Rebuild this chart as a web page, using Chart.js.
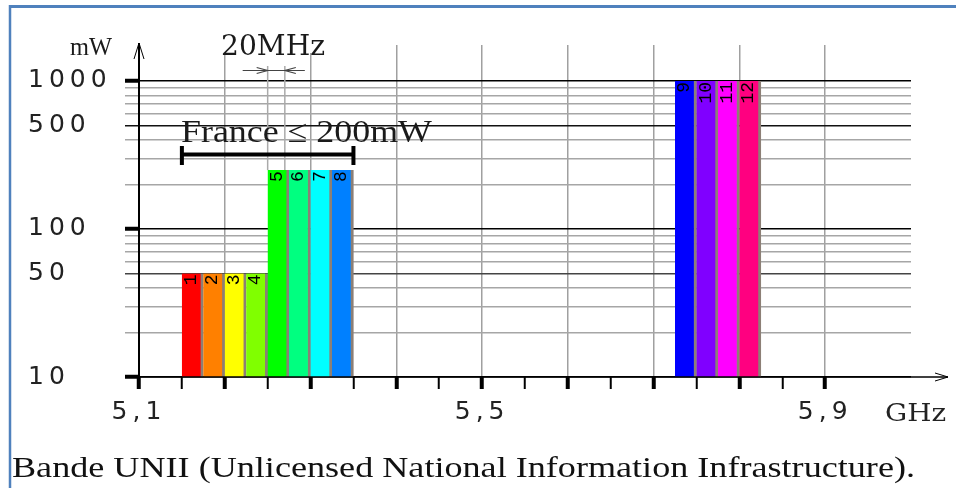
<!DOCTYPE html>
<html>
<head>
<meta charset="utf-8">
<script src="https://cdn.jsdelivr.net/npm/chart.js@4/dist/chart.umd.min.js"></script>
<style>
  html, body { margin: 0; padding: 0; background: #fff; }
  #chart { display: block; }
</style>
</head>
<body>
<canvas id="chart" width="956" height="488"></canvas>
<script>
// channels of the UNII band (drawn 25 MHz wide each, as in the original figure)
const channels = ['1', '2', '3', '4', '5', '6', '7', '8', '9', '10', '11', '12'];
const channelCenters = [5.1625, 5.1875, 5.2125, 5.2375, 5.2625, 5.2875, 5.3125, 5.3375,
                        5.7375, 5.7625, 5.7875, 5.8125];
const channelPower = [50, 50, 50, 50, 250, 250, 250, 250, 1000, 1000, 1000, 1000];
const channelColors = ['#ff0000', '#ff8000', '#ffff00', '#80ff00', '#00ff00', '#00ff80',
                       '#00ffff', '#0080ff', '#0000ff', '#8000ff', '#ff00ff', '#ff0080'];

// axes
const freqTicks = [5.1, 5.15, 5.2, 5.25, 5.3, 5.35, 5.4, 5.45, 5.5,
                   5.55, 5.6, 5.65, 5.7, 5.75, 5.8, 5.85, 5.9];
const freqMarks = [5.1, 5.5, 5.9];
const freqMarkLabels = ['5,1', '5,5', '5,9'];
const powerTicks = [10, 20, 30, 40, 50, 60, 70, 80, 90,
                    100, 200, 300, 400, 500, 600, 700, 800, 900, 1000];
const powerMarks = [10, 50, 100, 500, 1000];

// annotations
const franceRange = [5.15, 5.35];   // France <= 200 mW bracket
const span20MHz = [5.25, 5.27];     // 20 MHz width marker

const BLUE = '#4f81bd';

// Draw text squeezed/stretched to a given width (the source figure is stretched horizontally).
function fitText(ctx, text, x, y, font, width) {
  ctx.save();
  ctx.font = font;
  const w = ctx.measureText(text).width;
  ctx.translate(x, y);
  ctx.scale(width / w, 1);
  ctx.textAlign = 'left';
  ctx.textBaseline = 'alphabetic';
  ctx.fillText(text, 0, 0);
  ctx.restore();
}

function chevron(ctx, tx, ty, dx, dy, len, spread) {
  // open arrow head with tip at (tx, ty) pointing along (dx, dy)
  const px = -dy, py = dx;
  ctx.beginPath();
  ctx.moveTo(tx - dx * len + px * spread, ty - dy * len + py * spread);
  ctx.lineTo(tx, ty);
  ctx.lineTo(tx - dx * len - px * spread, ty - dy * len - py * spread);
  ctx.stroke();
}

const decorPlugin = {
  id: 'decor',
  beforeDraw(chart) {
    const ctx = chart.ctx;
    ctx.save();
    ctx.fillStyle = '#fff';
    ctx.fillRect(0, 0, chart.width, chart.height);
    ctx.restore();
    // wide look of the tick labels
    ctx.letterSpacing = '5px';
  },
  afterDraw(chart) {
    const ctx = chart.ctx;
    ctx.letterSpacing = '0px';
    const x = chart.scales.x, y = chart.scales.y;
    const x0 = x.getPixelForValue(5.1);
    const y0 = y.getPixelForValue(10);

    ctx.save();
    ctx.strokeStyle = '#000';
    ctx.fillStyle = '#000';

    // axes with arrows
    ctx.lineWidth = 1.5;
    ctx.beginPath();
    ctx.moveTo(x0, y0);
    ctx.lineTo(948, y0);
    ctx.stroke();
    ctx.lineWidth = 1;
    chevron(ctx, 948, y0, 1, 0, 13, 4);
    ctx.lineWidth = 2;
    ctx.beginPath();
    ctx.moveTo(x0, y0 + 12);
    ctx.lineTo(x0, 43);
    ctx.stroke();
    ctx.lineWidth = 1;
    chevron(ctx, x0, 43, 0, -1, 16, 5);

    // bar numbers, rotated
    const meta = chart.getDatasetMeta(0);
    ctx.font = '18px "Liberation Mono"';
    ctx.fillStyle = '#000';
    meta.data.forEach((bar, i) => {
      ctx.save();
      ctx.translate(bar.x - 1.5, bar.y + 1);
      ctx.rotate(-Math.PI / 2);
      ctx.textAlign = 'right';
      ctx.textBaseline = 'middle';
      ctx.fillText(channels[i], 0, 0);
      ctx.restore();
    });

    // 20 MHz marker
    const a = x.getPixelForValue(span20MHz[0]);
    const b = x.getPixelForValue(span20MHz[1]);
    const top5 = meta.data[4].y;
    ctx.strokeStyle = '#aaaaaa';
    ctx.lineWidth = 1.5;
    [a, b].forEach(px => {
      ctx.beginPath();
      ctx.moveTo(px, 66);
      ctx.lineTo(px, top5);
      ctx.stroke();
    });
    ctx.strokeStyle = '#444';
    ctx.lineWidth = 1.2;
    ctx.beginPath();
    ctx.moveTo(a - 25, 70.5);
    ctx.lineTo(b + 20, 70.5);
    ctx.stroke();
    chevron(ctx, a, 70.5, 1, 0, 11, 3);
    chevron(ctx, b, 70.5, -1, 0, 11, 3);

    ctx.fillStyle = '#fff';
    ctx.fillRect(217, 28, 112, 25);
    ctx.fillStyle = '#1a1a1a';
    fitText(ctx, '20MHz', 221, 55, '27px "DejaVu Serif"', 104);
    fitText(ctx, 'mW', 70, 55, '25px "Liberation Serif"', 42);

    // France bracket
    const f0 = x.getPixelForValue(franceRange[0]);
    const f1 = x.getPixelForValue(franceRange[1]);
    ctx.strokeStyle = '#000';
    ctx.lineWidth = 4;
    ctx.beginPath();
    ctx.moveTo(f0, 154.5);
    ctx.lineTo(f1, 154.5);
    ctx.moveTo(f0, 146);
    ctx.lineTo(f0, 165);
    ctx.moveTo(f1, 146);
    ctx.lineTo(f1, 165);
    ctx.stroke();
    fitText(ctx, 'France \u2264 200mW', 181, 141.5, '32px "Liberation Serif"', 251);

    // unit and caption
    ctx.fillStyle = '#222';
    fitText(ctx, 'GHz', 885, 421, '25px "DejaVu Serif"', 61);
    ctx.fillStyle = '#111';
    fitText(ctx, 'Bande UNII (Unlicensed National Information Infrastructure).',
            12, 477, '30px "Liberation Serif"', 903);

    // frame
    ctx.strokeStyle = BLUE;
    ctx.lineWidth = 3;
    ctx.beginPath();
    ctx.moveTo(9, 6.5);
    ctx.lineTo(956, 6.5);
    ctx.stroke();
    ctx.lineWidth = 2.5;
    ctx.beginPath();
    ctx.moveTo(10, 5);
    ctx.lineTo(10, 488);
    ctx.stroke();
    ctx.restore();
  }
};

const yGridColor = c => {
  const v = c.tick.value;
  if (v === 10 || v === 100 || v === 1000) return '#000';
  if (v === 500) return '#111';
  if (v === 50) return '#444';
  return '#a6a6a6';
};

new Chart(document.getElementById('chart'), {
  type: 'bar',
  data: {
    datasets: [{
      data: channelCenters.map((f, i) => ({ x: f, y: channelPower[i] })),
      backgroundColor: channelColors,
      borderColor: '#8c7f76',
      borderWidth: { top: 0, right: 3, bottom: 0, left: 0 },
      barPercentage: 1,
      categoryPercentage: 1
    }]
  },
  options: {
    responsive: false,
    animation: false,
    devicePixelRatio: 1,
    layout: { padding: { left: 28, top: 45, right: 45, bottom: 0 } },
    plugins: { legend: { display: false }, tooltip: { enabled: false } },
    scales: {
      x: {
        type: 'linear',
        min: 5.1,
        max: 6.0,
        offset: false,
        z: 1,
        afterFit: s => { s.height = 111; },
        afterBuildTicks: s => { s.ticks = freqTicks.map(v => ({ value: v })); },
        border: { display: false },
        grid: {
          offset: false,
          color: c => (c.index % 2 === 0 && c.index > 0) ? '#a0a0a0' : 'rgba(0,0,0,0)',
          lineWidth: 1.5,
          tickLength: 12,
          tickColor: '#000',
          tickWidth: c => (c.index % 2 === 0 ? 4 : 2)
        },
        ticks: {
          autoSkip: false,
          maxRotation: 0,
          padding: 8,
          color: '#222',
          font: { family: 'DejaVu Sans', size: 25 },
          callback: v => {
            const i = freqMarks.indexOf(v);
            return i >= 0 ? freqMarkLabels[i] : '';
          }
        }
      },
      y: {
        type: 'logarithmic',
        min: 10,
        max: 1750,
        z: 1,
        afterFit: s => { s.width = 111; },
        afterBuildTicks: s => { s.ticks = powerTicks.map(v => ({ value: v })); },
        border: { display: false },
        grid: {
          color: yGridColor,
          lineWidth: 1.5,
          tickLength: 14,
          tickColor: c => ([10, 100, 1000].includes(c.tick.value) ? '#000' : yGridColor(c)),
          tickWidth: c => ([10, 100, 1000].includes(c.tick.value) ? 4 : 1.5)
        },
        ticks: {
          autoSkip: false,
          crossAlign: 'far',
          color: '#222',
          font: { family: 'DejaVu Sans', size: 25 },
          callback: v => (powerMarks.includes(v) ? String(v) : '')
        }
      }
    }
  },
  plugins: [decorPlugin]
});
</script>
</body>
</html>
